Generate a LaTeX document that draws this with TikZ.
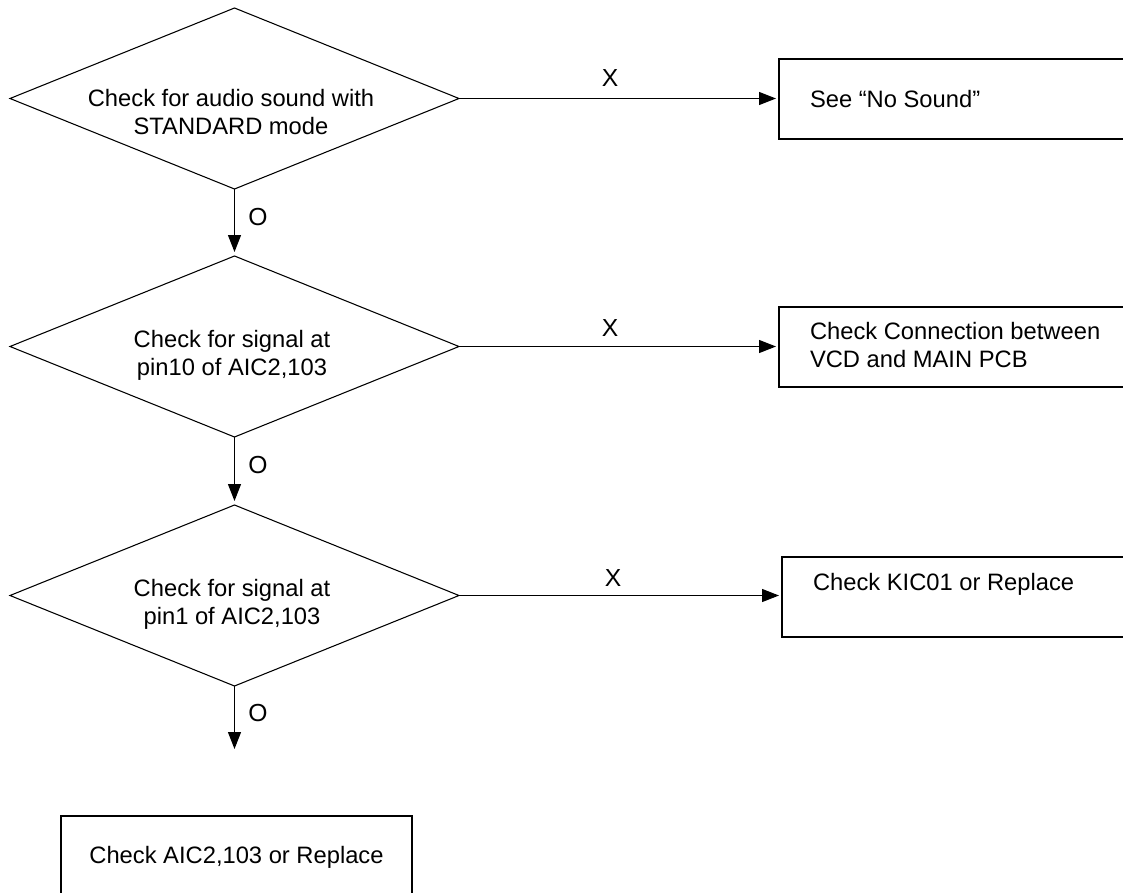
\documentclass[tikz,border=0pt]{standalone}
\usepackage{fontspec}
\setmainfont{Liberation Sans}
\usetikzlibrary{shapes.geometric,arrows.meta}
\begin{document}
\begin{tikzpicture}[x=0.75pt,y=-0.75pt,
  every node/.style={font=\fontsize{17.8}{20.8}\selectfont, inner sep=0pt, outer sep=0pt},
  decision/.style={draw, diamond, line width=0.8pt, minimum width=336.75pt, minimum height=135.75pt},
  actbox/.style={draw, rectangle, line width=1.1pt, anchor=north west, minimum width=263.25pt, minimum height=60pt},
  txt/.style={align=center},
  ltxt/.style={align=left, anchor=west},
  lbl/.style={font=\fontsize{18.5}{21}\selectfont},
  arr/.style={draw, line width=0.9pt, -{Triangle[length=12.75pt,width=9.75pt]}, shorten >=2.25pt}
]
\clip (0,0) rectangle (1123,892);
\fill[white] (0,0) rectangle (1123,892);

% decisions
\node[decision] (d1) at (234.5,98.5) {};
\node[decision] (d2) at (234.5,346.5) {};
\node[decision] (d3) at (234.5,595.5) {};
\node[txt] (t1) at (231,112) {Check for audio sound with\\STANDARD mode};
\node[txt] (t2) at (232,355.5) {Check for signal at\\ pin10 of AIC2,103};
\node[txt] (t3) at (232,604) {Check for signal at\\ pin1 of AIC2,103};

% action boxes
\node[actbox] (b1) at (779,59) {};
\node[actbox] (b2) at (779,307) {};
\node[actbox] (b3) at (782,557) {};
\node[actbox, minimum width=263.25pt, minimum height=75pt] (b4) at (61,816) {};
\node[ltxt] (bt1) at (810,99.4) {See “No Sound”};
\node[ltxt] (bt2) at (810,345) {Check Connection between\\VCD and MAIN PCB};
\node[ltxt] (bt3) at (813,584) {Check KIC01 or Replace};
\node[txt] (bt4) at (236.5,857) {Check AIC2,103 or Replace};

% X connectors
\draw[arr] (d1.east) -- (d1.east -| b1.west);
\draw[arr] (d2.east) -- (d2.east -| b2.west);
\draw[arr] (d3.east) -- (d3.east -| b3.west);
\node[lbl] (x1) at (610,78) {X};
\node[lbl] (x2) at (610,328) {X};
\node[lbl] (x3) at (613,578) {X};

% O connectors
\coordinate (end) at (234.5,749);
\draw[arr, shorten >=3pt] (d1.south) -- (d2.north);
\draw[arr, shorten >=3pt] (d2.south) -- (d3.north);
\draw[arr, shorten >=0pt] (d3.south) -- (end);
\node[lbl] (o1) at (258,217.5) {O};
\node[lbl] (o2) at (258,465) {O};
\node[lbl] (o3) at (258,713) {O};
\end{tikzpicture}
\end{document}
